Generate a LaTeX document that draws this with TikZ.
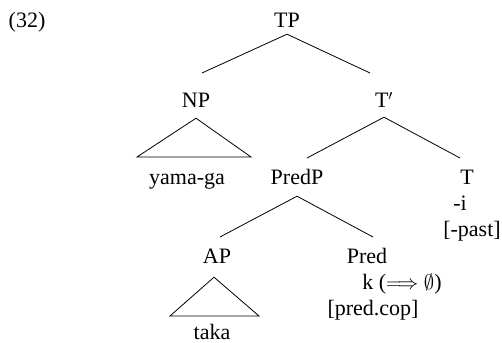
\documentclass[tikz,border=0pt]{standalone}
\usepackage{fontspec}
\setmainfont{Liberation Serif}
\usetikzlibrary{positioning, calc}

\begin{document}
\begin{tikzpicture}[x=1pt, y=1pt, node distance=6.5pt,
	every node/.style={inner sep=0pt, text height=14pt, text depth=5pt, font=\fontsize{22}{26}\selectfont},
	cat/.style={anchor=base},
	branch/.style={line width=0.8pt}]
	\useasboundingbox (0,0) rectangle (502,342);
	% labels of the tree
	\node[cat] (ex) at (27,314) {(32)};
	\node[cat] (tp) at (287,314) {TP};
	\node[cat] (np) at (196,234) {NP};
	\node[cat] (tbar) at (384,234) {T$'$};
	\node[cat] (yama) at (187,157) {yama-ga};
	\node[cat] (predp) at (297,157) {PredP};
	\node[cat] (t) at (467,157) {T};
	\node[below =of t, xshift=-7pt] (ti) {-i};
	\node[below =of ti, xshift=12pt] (past) {[-past]};
	\node[cat] (ap) at (217,78) {AP};
	\node[cat] (pred) at (367,78) {Pred};
	\node[below =of pred, xshift=35pt] (k) {k ($\Longrightarrow$ $\emptyset$)};
	\node[below =of k, xshift=-29pt] (cop) {[pred.cop]};
	\node[cat, text depth=0pt] (taka) at (212,3) {taka};
	% free ends of the branches
	\coordinate (tp-l) at (202,269);
	\coordinate (tp-r) at (370,269);
	\coordinate (np-l) at (137,185);
	\coordinate (np-r) at (251,185);
	\coordinate (tbar-l) at (307,184);
	\coordinate (tbar-r) at (460,184);
	\coordinate (predp-l) at (220,105);
	\coordinate (predp-r) at (373,105);
	\coordinate (ap-l) at (170,26);
	\coordinate (ap-r) at (259,26);
	\draw[branch]
	([yshift=-1pt]tp.south) -- (tp-l)
	([yshift=-1pt]tp.south) -- (tp-r)
	([yshift=-4pt]tbar.south) -- (tbar-l)
	([yshift=-4pt]tbar.south) -- (tbar-r)
	([yshift=-6pt]predp.south) -- (predp-l)
	([yshift=-6pt]predp.south) -- (predp-r);
	\draw[branch] ([yshift=-5pt]np.south) -- (np-l) -- (np-r) -- cycle;
	\draw[branch] ([xshift=-3pt, yshift=-8pt]ap.south) -- (ap-l) -- (ap-r) -- cycle;
\end{tikzpicture}
\end{document}
